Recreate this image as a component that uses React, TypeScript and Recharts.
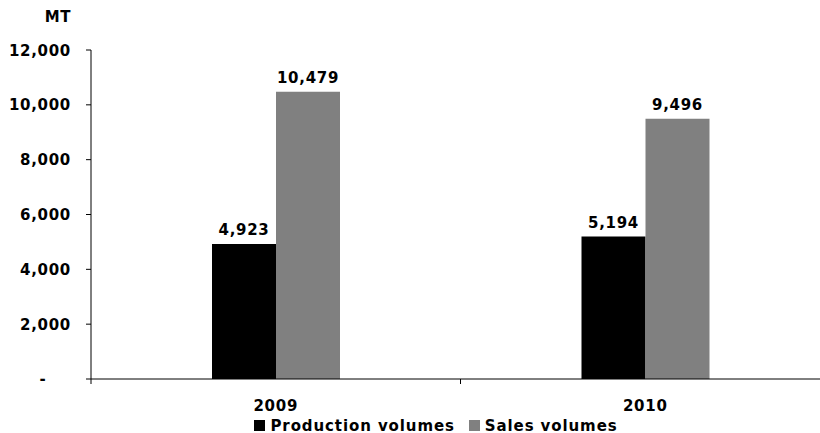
import { Bar, BarChart, LabelList, Legend, XAxis, YAxis } from "recharts";

const years = ["2009", "2010"];
const productionVolumes = [4923, 5194];
const salesVolumes = [10479, 9496];
const yTicks = [0, 2000, 4000, 6000, 8000, 10000, 12000];

const data = years.map((year, i) => ({
  year,
  production: productionVolumes[i],
  sales: salesVolumes[i],
}));

const FONT = "'DejaVu Sans', Verdana, sans-serif";
const textProps = {
  fontFamily: FONT,
  fontWeight: 700,
  fontSize: 15,
  letterSpacing: 0.7,
  fill: "#000",
};

function formatNumber(value: unknown) {
  const n = Number(value);
  return Number.isFinite(n) ? n.toLocaleString("en-US") : "";
}

function YTick({ x, y, payload }: any) {
  if (payload.value === 0) {
    return (
      <text x={x - 28} y={y} dy={5} textAnchor="middle" {...textProps}>
        -
      </text>
    );
  }
  return (
    <text x={x} y={y} dy={5.5} textAnchor="end" {...textProps}>
      {formatNumber(payload.value)}
    </text>
  );
}

function XTick({ x, y, payload, index, visibleTicksCount }: any) {
  const half = payload.offset ?? 0;
  return (
    <g>
      <line x1={x - half} x2={x - half} y1={y} y2={y + 5} stroke="#000" />
      {index === visibleTicksCount - 1 && (
        <line x1={x + half} x2={x + half} y1={y} y2={y + 5} stroke="#000" />
      )}
      <text x={x} y={y} dy={32} textAnchor="middle" {...textProps}>
        {payload.value}
      </text>
    </g>
  );
}

function BarValue({ x, y, width, value }: any) {
  return (
    <text x={x + width / 2} y={y - 9} textAnchor="middle" {...textProps}>
      {formatNumber(value)}
    </text>
  );
}

function LegendContent({ payload }: any) {
  return (
    <div
      style={{
        display: "flex",
        justifyContent: "center",
        alignItems: "center",
        gap: 14,
        paddingLeft: 42,
        height: 18,
        fontFamily: FONT,
        fontWeight: 700,
        fontSize: 15,
        lineHeight: "14px",
        letterSpacing: 0.9,
        color: "#000",
      }}
    >
      {(payload || []).map((item: any) => (
        <span key={item.value} style={{ display: "flex", alignItems: "center", paddingTop: 3 }}>
          <span style={{ width: 11, height: 11, background: item.color, marginRight: 5 }} />
          {item.value}
        </span>
      ))}
    </div>
  );
}

export default function App() {
  return (
    <div
      style={{
        position: "absolute",
        left: 0,
        top: 0,
        width: 820,
        height: 433,
        overflow: "hidden",
        background: "#fff",
      }}
    >
      <div
        style={{
          position: "absolute",
          right: 820 - 71,
          top: 8,
          fontFamily: FONT,
          fontWeight: 700,
          fontSize: 15,
          letterSpacing: 0.6,
        }}
      >
        MT
      </div>
      <BarChart
        width={830}
        height={433}
        data={data}
        margin={{ top: 50, right: 0, left: 0, bottom: 0 }}
        barGap={0}
      >
        <YAxis
          width={91}
          domain={[0, 12000]}
          ticks={yTicks}
          interval={0}
          tickSize={5}
          tickMargin={15}
          tick={<YTick />}
          axisLine={{ stroke: "#000" }}
          tickLine={{ stroke: "#000" }}
        />
        <XAxis
          dataKey="year"
          height={36}
          tickSize={0}
          tickMargin={0}
          tick={<XTick />}
          axisLine={{ stroke: "#000" }}
          tickLine={false}
        />
        <Legend verticalAlign="bottom" content={<LegendContent />} />
        <Bar
          dataKey="production"
          name="Production volumes"
          fill="#000000"
          barSize={64}
          isAnimationActive={false}
        >
          <LabelList dataKey="production" content={<BarValue />} />
        </Bar>
        <Bar
          dataKey="sales"
          name="Sales volumes"
          fill="#808080"
          barSize={64}
          isAnimationActive={false}
        >
          <LabelList dataKey="sales" content={<BarValue />} />
        </Bar>
      </BarChart>
    </div>
  );
}
